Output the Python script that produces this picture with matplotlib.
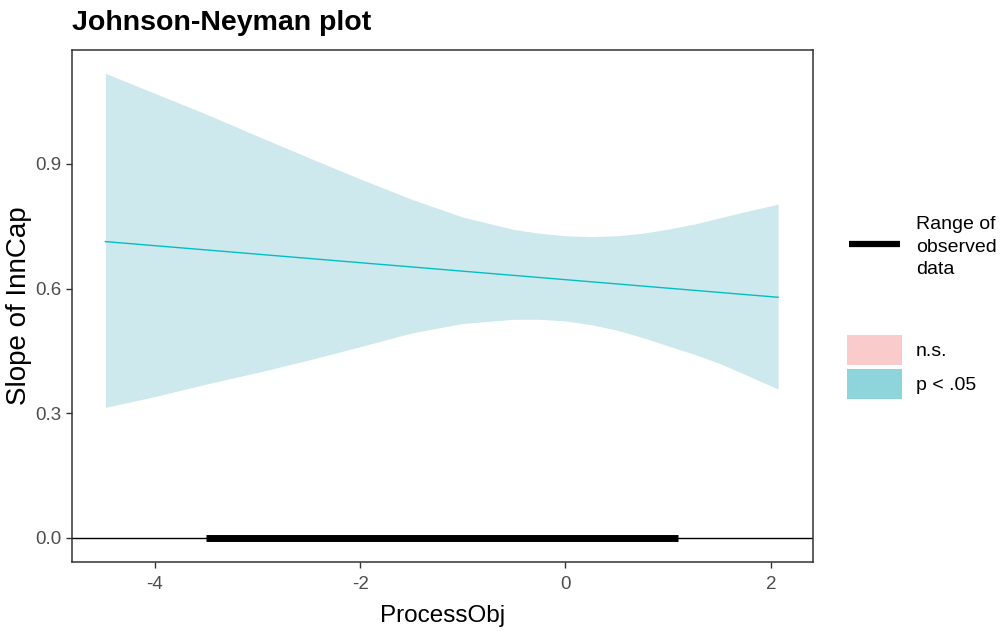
import matplotlib
matplotlib.use("Agg")
import matplotlib.pyplot as plt
from matplotlib.patches import Rectangle
from matplotlib.lines import Line2D

plt.rcParams['font.family'] = ['Liberation Sans', 'DejaVu Sans']

# values
moderator = [-4.48, -4.0, -3.5, -3.0, -2.5, -2.0, -1.5, -1.0, -0.5, -0.25,
             0.0, 0.25, 0.5, 0.75, 1.0, 1.25, 1.5, 1.75, 2.07]
upper_ci = [1.118, 1.070, 1.020, 0.967, 0.915, 0.864, 0.815, 0.772, 0.742, 0.733,
            0.727, 0.725, 0.727, 0.733, 0.743, 0.755, 0.770, 0.785, 0.803]
lower_ci = [0.314, 0.340, 0.370, 0.398, 0.428, 0.460, 0.493, 0.516, 0.526, 0.526,
            0.522, 0.513, 0.500, 0.482, 0.462, 0.442, 0.420, 0.393, 0.358]
slope_x = [-4.48, 2.07]
slope_y = [0.713, 0.579]
observed_range = [-3.50, 1.10]

x_ticks = [-4, -2, 0, 2]
y_ticks = [0.0, 0.3, 0.6, 0.9]

teal = '#00BFC4'
band_col = '#CDE9EE'
ns_col = '#F9CBCB'
sig_col = '#8ED5DB'
grey = '#4D4D4D'

W, H = 1004, 631
fig = plt.figure(figsize=(W / 100, H / 100), dpi=100)
ax = fig.add_axes([72 / W, 1 - 562 / H, (813 - 72) / W, (562 - 50) / H])

ax.fill_between(moderator, lower_ci, upper_ci, color=band_col, linewidth=0)
ax.plot(slope_x, slope_y, color=teal, lw=1.0)
ax.axhline(0, color='black', lw=1.0)
ax.plot(observed_range, [0, 0], color='black', lw=5, solid_capstyle='butt')

ax.set_xlim(-4.805, 2.41)
ax.set_ylim(-0.058, 1.174)
ax.set_xticks(x_ticks)
ax.set_yticks(y_ticks)
ax.set_xticklabels([str(t) for t in x_ticks])
ax.set_yticklabels([f'{t:.1f}' for t in y_ticks])
ax.tick_params(colors='#333333', labelcolor=grey, labelsize=13.5, length=4, width=1)
ax.tick_params(axis='x', pad=6)
for s in ax.spines.values():
    s.set_color('#333333')
    s.set_linewidth(1.1)

ax.set_xlabel('ProcessObj', fontsize=17.5, labelpad=9)
ax.set_ylabel('Slope of InnCap', fontsize=20)
ax.yaxis.set_label_coords(-0.054, 0.5)

fig.text(72 / W, 1 - 10 / H, 'Johnson-Neyman plot', fontsize=20.5,
         fontweight='bold', ha='left', va='top')

# legend, drawn by hand to the right of the panel
fig.add_artist(Line2D([849 / W, 900 / W], [1 - 244 / H, 1 - 244 / H],
                      transform=fig.transFigure, color='black', lw=4.5,
                      solid_capstyle='butt'))
fig.text(916 / W, 1 - 247 / H, 'Range of\nobserved\ndata', fontsize=14,
         ha='left', va='center', linespacing=1.45)
fig.add_artist(Rectangle((847 / W, 1 - 365 / H), 55 / W, 30 / H,
                         transform=fig.transFigure, color=ns_col, lw=0))
fig.add_artist(Rectangle((847 / W, 1 - 399 / H), 55 / W, 30 / H,
                         transform=fig.transFigure, color=sig_col, lw=0))
fig.text(916 / W, 1 - 352 / H, 'n.s.', fontsize=14, ha='left', va='center')
fig.text(916 / W, 1 - 386 / H, 'p < .05', fontsize=14, ha='left', va='center')

fig.savefig('out.png', dpi=100)
